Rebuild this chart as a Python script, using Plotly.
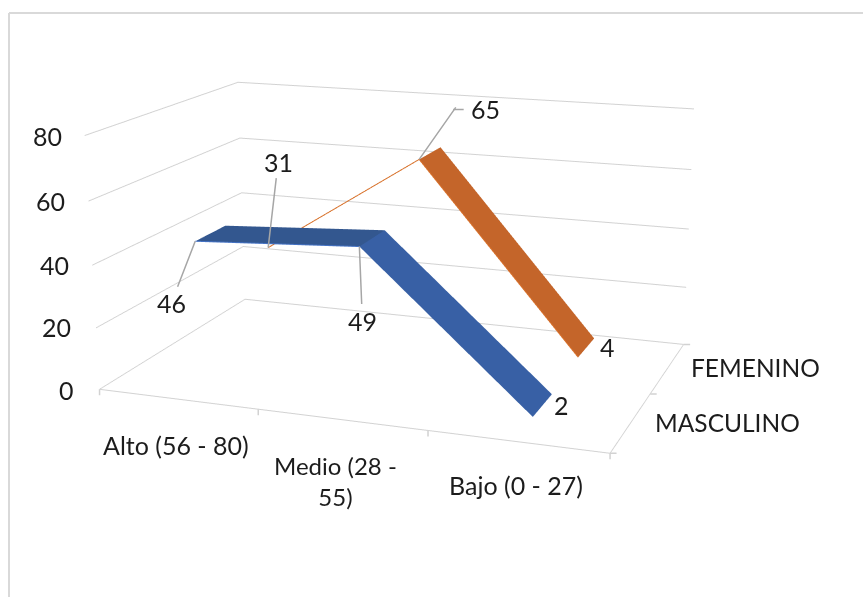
import math
import plotly.graph_objects as go

WIDTH, HEIGHT = 863, 597

categories = ["Alto (56 - 80)", "Medio (28 - 55)", "Bajo (0 - 27)"]
series_names = ["MASCULINO", "FEMENINO"]
masculino = [46, 49, 2]
femenino = [31, 65, 4]
z_ticks = [0, 20, 40, 60, 80]

GRID = "#d2d2d2"
INK = "#1c1c1c"
LEADER = "#a6a6a6"
FONT = dict(family="Lato", size=25, color=INK)
TINY = dict(size=1, color="white")

# Narrow field of view: the box is seen from far away with a long lens
FOCAL_PX = 1696.0
FOVY = 2 * math.atan((HEIGHT / 2) / FOCAL_PX)


def ribbon(values, depth, face_colors):
    """One flat band per pair of neighbouring categories, at the given depth slot."""
    y0, y1 = depth + 0.3, depth + 0.7
    xs, ys, zs, ii, jj, kk, fc = [], [], [], [], [], [], []
    for s in range(len(values) - 1):
        a = len(xs)
        xs += [s + 0.5, s + 0.5, s + 1.5, s + 1.5]
        ys += [y0, y1, y0, y1]
        zs += [values[s], values[s], values[s + 1], values[s + 1]]
        ii += [a, a + 1]
        jj += [a + 1, a + 3]
        kk += [a + 2, a + 2]
        fc += [face_colors[s], face_colors[s]]
    return go.Mesh3d(x=xs, y=ys, z=zs, i=ii, j=jj, k=kk, facecolor=fc, flatshading=True,
                     lighting=dict(ambient=1, diffuse=0, specular=0, fresnel=0),
                     hoverinfo="skip", showscale=False)


def front_edge(values, depth, color):
    return go.Scatter3d(x=[i + 0.5 for i in range(len(values))], y=[depth + 0.3] * len(values), z=values,
                        mode="lines", line=dict(color=color, width=2), hoverinfo="skip")


fig = go.Figure()
fig.add_trace(ribbon(femenino, 1, ["#c5651f", "#c4652a"]))
fig.add_trace(front_edge(femenino, 1, "#d9712a"))
fig.add_trace(ribbon(masculino, 0, ["#33578f", "#3860a5"]))
fig.add_trace(front_edge(masculino[:2], 0, "#4472c4"))


def paper_label(text, cx, cy, font=FONT):
    return dict(text=text, x=cx / WIDTH, y=1 - cy / HEIGHT, xref="paper", yref="paper",
                xanchor="center", yanchor="middle", showarrow=False, font=font, align="center")


annotations = [paper_label(str(v), cx, cy) for v, cx, cy in zip(
    z_ticks, [66, 57, 54, 50, 47], [390, 327, 265, 201, 136])]
annotations += [
    paper_label(categories[0], 176, 445),
    paper_label("Medio (28 -<br>55)", 335, 481, font=dict(FONT, size=24)),
    paper_label(categories[2], 516, 485),
    paper_label(series_names[0], 727, 422, font=dict(FONT, size=24.5)),
    paper_label(series_names[1], 755, 367, font=dict(FONT, size=24.5)),
]


def value_label(x, y, z, ax, ay):
    return dict(x=x, y=y, z=z, text=str(z), ax=ax, ay=ay, showarrow=True,
                arrowhead=0, arrowwidth=1.5, arrowcolor=LEADER, font=FONT)


def stroke(x, y, z, ax, ay, color=LEADER, xshift=0, yshift=0):
    """Short pixel-length stroke hanging off a data point, with no visible text."""
    return dict(x=x, y=y, z=z, text=" ", ax=ax, ay=ay, xshift=xshift, yshift=yshift, showarrow=True,
                arrowhead=0, arrowwidth=1.5, arrowcolor=color, font=TINY)


peak = (1.5, 1.3, femenino[1])
scene_annotations = [
    value_label(0.5, 0.3, masculino[0], -24, 62),
    value_label(1.5, 0.3, masculino[1], 3, 74),
    value_label(0.5, 1.3, femenino[0], 10, -86),
    # elbowed leader for the peak of the orange line
    stroke(*peak, 38, -54),
    stroke(*peak, 12, 0, xshift=34, yshift=50),
    dict(x=peak[0], y=peak[1], z=peak[2], text=str(femenino[1]), showarrow=False, xshift=66, yshift=50, font=FONT),
    dict(x=2.5, y=0.7, z=masculino[2], text=str(masculino[2]), showarrow=False, xshift=10, yshift=-11, font=FONT),
    dict(x=2.5, y=1.7, z=femenino[2], text=str(femenino[2]), showarrow=False, xshift=13, yshift=-9, font=FONT),
]
# tick marks: straight down along the category edge, straight right along the series edge
scene_annotations += [stroke(i, 0, 0, 0, 8, color=GRID) for i in range(len(categories) + 1)]
scene_annotations += [stroke(3, j, 0, 8, 0, color=GRID) for j in range(len(series_names) + 1)]

axis_common = dict(title="", showbackground=False, showspikes=False, zeroline=False, showticklabels=False, ticks="")

fig.update_layout(
    width=WIDTH, height=HEIGHT, margin=dict(l=0, r=0, t=0, b=0), paper_bgcolor="white", showlegend=False,
    annotations=annotations,
    shapes=[
        dict(type="line", xref="paper", yref="paper", x0=9 / WIDTH, x1=9 / WIDTH, y0=0, y1=1 - 13 / HEIGHT,
             line=dict(color="#d9d9d9", width=2)),
        dict(type="line", xref="paper", yref="paper", x0=9 / WIDTH, x1=1, y0=1 - 13 / HEIGHT, y1=1 - 13 / HEIGHT,
             line=dict(color="#d9d9d9", width=2)),
    ],
    scene=dict(
        xaxis=dict(range=[0, 3], tickvals=[0, 1, 2, 3], showgrid=False, showline=True, linecolor=GRID, linewidth=2,
                   **axis_common),
        yaxis=dict(range=[0, 2], tickvals=[0, 1, 2], showgrid=False, showline=True, linecolor=GRID, linewidth=2,
                   **axis_common),
        zaxis=dict(range=[0, 80], tickvals=z_ticks, showgrid=True, gridcolor=GRID, gridwidth=2, showline=False,
                   **axis_common),
        aspectmode="manual", aspectratio=dict(x=2.031, y=1.313, z=1),
        camera=dict(eye=dict(x=2.263, y=-6.103, z=1.699), center=dict(x=0.130, y=-0.024, z=-0.196),
                    up=dict(x=0, y=0, z=1), projection=dict(type="perspective")),
        annotations=scene_annotations,
    ),
)

lens_script = """
var gd = document.getElementById('{plot_id}');
function setLens() {
  var s = gd._fullLayout && gd._fullLayout.scene && gd._fullLayout.scene._scene;
  if (!s || !s.glplot) { setTimeout(setLens, 50); return; }
  s.glplot.fovy = %f;
  s.glplot.redraw();
}
setLens();
""" % FOVY

fig.write_html("out.html", config=dict(displayModeBar=False), post_script=lens_script)
